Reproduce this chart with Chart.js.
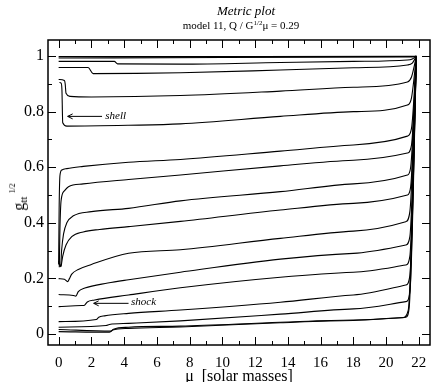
<!DOCTYPE html>
<html>
<head>
<meta charset="utf-8">
<script src="https://cdn.jsdelivr.net/npm/chart.js@4.4.0/dist/chart.umd.min.js"></script>
<style>
  html, body { margin: 0; padding: 0; background: #fff; }
  #wrap { position: relative; width: 436px; height: 382px; }
  #chart { position: absolute; left: 0; top: 0; }
  .t { position: absolute; font-family: "Liberation Serif", serif; color: #000; white-space: nowrap; transform: translateX(-50%); }
  #title { left: 246px; top: 3px; font-size: 13px; font-style: italic; }
  #subtitle { left: 241px; top: 19px; font-size: 11px; }
  #subtitle sup { font-size: 7px; vertical-align: 4px; line-height: 0; }
  #ylab { left: 19px; top: 197px; font-size: 16px; transform: translate(-50%, -50%) rotate(-90deg); }
  #ylab sub { font-size: 11px; vertical-align: -3px; line-height: 0; }
  #ylab sup { font-size: 8px; vertical-align: 9px; line-height: 0; margin-left: 3px; }
</style>
</head>
<body>
<div id="wrap">
  <canvas id="chart" width="436" height="382"></canvas>
  <div class="t" id="title">Metric plot</div>
  <div class="t" id="subtitle">model 11, Q / G<sup>1/2</sup>μ = 0.29</div>
  <div class="t" id="ylab">g<sub>tt</sub><sup>1/2</sup></div>
</div>
<script>
'use strict';

// axis ticks
const xTicks = [0, 2, 4, 6, 8, 10, 12, 14, 16, 18, 20, 22];
const xMinor = [1, 3, 5, 7, 9, 11, 13, 15, 17, 19, 21];
const yTicks = [0, 0.2, 0.4, 0.6, 0.8, 1];
const yMinor = [0.1, 0.3, 0.5, 0.7, 0.9];

// curves (mu in solar masses, g_tt^1/2)
const muT1 = [0, 10, 21.6, 21.85];
const gT1  = [0.998, 0.998, 0.999, 1.0];
const muT2 = [0, 10, 21.5, 21.85];
const gT2  = [0.993, 0.995, 0.997, 1.0];

const muA = [0, 3.4, 3.6, 7.44, 13.54, 18, 21.3, 21.6, 21.85];
const gA  = [0.981, 0.981, 0.972, 0.971, 0.977, 0.981, 0.986, 0.99, 1.0];

const muB = [0, 1.8, 2.1, 7.44, 13.54, 18, 21.3, 21.6, 21.85];
const gB  = [0.959, 0.959, 0.937, 0.94, 0.95, 0.958, 0.968, 0.975, 1.0];

const muC = [0, 0.35, 0.4, 0.45, 0.7, 2, 7.44, 13.54, 18, 21.3, 21.55, 21.85];
const gC  = [0.916, 0.912, 0.9, 0.866, 0.855, 0.853, 0.858, 0.874, 0.888, 0.907, 0.925, 1.0];

const muD = [0.05, 0.15, 0.2, 0.25, 0.5, 4.27, 7.44, 13.54, 18, 21.3, 21.55, 21.85];
const gD  = [0.905, 0.903, 0.88, 0.76, 0.748, 0.751, 0.756, 0.783, 0.8, 0.824, 0.85, 1.0];

const muE = [0, 0.03, 0.08, 0.2, 0.5, 1.5, 4.27, 7.44, 13.54, 18, 21.3, 21.55, 21.85];
const gE  = [0.25, 0.45, 0.57, 0.59, 0.595, 0.603, 0.618, 0.628, 0.658, 0.68, 0.712, 0.74, 1.0];

const muF = [0.04, 0.08, 0.15, 0.35, 0.6, 1.5, 4.27, 7.44, 13.54, 18, 21.3, 21.55, 21.85];
const gF  = [0.24, 0.38, 0.48, 0.515, 0.53, 0.54, 0.556, 0.572, 0.605, 0.625, 0.651, 0.68, 1.0];

const muG = [0, 0.12, 0.18, 0.3, 0.5, 0.9, 2, 4.27, 7.44, 13.54, 18, 21.3, 21.5, 21.85];
const gG  = [0.262, 0.242, 0.3, 0.36, 0.4, 0.425, 0.44, 0.452, 0.479, 0.512, 0.54, 0.572, 0.6, 1.0];

const muH = [0.15, 0.25, 0.45, 0.8, 1.5, 2.5, 4.27, 7.44, 13.54, 18, 21.3, 21.5, 21.85];
const gH  = [0.242, 0.28, 0.32, 0.35, 0.367, 0.376, 0.386, 0.405, 0.446, 0.47, 0.5, 0.53, 1.0];

const muI = [0, 0.35, 0.55, 0.65, 0.8, 1.2, 2, 4.27, 7.44, 13.54, 18, 21.2, 21.45, 21.85];
const gI  = [0.199, 0.197, 0.188, 0.198, 0.215, 0.232, 0.25, 0.29, 0.303, 0.344, 0.37, 0.404, 0.44, 1.0];

const muJ = [0, 0.9, 1.05, 1.2, 1.6, 3, 4.27, 7.44, 13.54, 18, 21.2, 21.45, 21.85];
const gJ  = [0.142, 0.138, 0.136, 0.152, 0.165, 0.183, 0.195, 0.222, 0.269, 0.29, 0.32, 0.35, 1.0];

const muK = [0, 1.4, 1.55, 1.75, 2.2, 4.27, 7.44, 13.54, 18, 21.2, 21.45, 21.85];
const gK  = [0.098, 0.102, 0.102, 0.115, 0.122, 0.14, 0.166, 0.204, 0.222, 0.248, 0.28, 1.0];

const muL = [0, 2.3, 2.45, 2.8, 4.27, 7.44, 13.54, 18, 21.2, 21.45, 21.85];
const gL  = [0.044, 0.052, 0.06, 0.065, 0.074, 0.086, 0.114, 0.14, 0.176, 0.21, 1.0];

const muM = [0, 2.9, 3.1, 4.27, 7.44, 13.54, 18, 21.2, 21.45, 21.85];
const gM  = [0.024, 0.03, 0.034, 0.038, 0.047, 0.071, 0.09, 0.116, 0.15, 1.0];

const muN1 = [0, 3.2, 3.35, 4.27, 7.44, 13.54, 18, 21.2, 21.4, 21.85];
const gN1  = [0.016, 0.01, 0.017, 0.024, 0.028, 0.042, 0.05, 0.06, 0.09, 1.0];
const muN2 = [0, 3.1, 3.3, 4.27, 7.44, 13.54, 18, 21.0, 21.35, 21.85];
const gN2  = [0.008, 0.006, 0.014, 0.02, 0.025, 0.04, 0.048, 0.058, 0.085, 1.0];

// arrow labels: text, text anchor, arrow tail -> tip (data units)
const notes = [
  { text: 'shell', tx: 2.85, ty: 0.783, x0: 2.65, y0: 0.783, x1: 0.55, y1: 0.783 },
  { text: 'shock', tx: 4.42, ty: 0.114, x0: 4.27, y0: 0.11, x1: 2.14, y1: 0.11 },
];

const series = [
  [muT1, gT1], [muT2, gT2], [muA, gA], [muB, gB], [muC, gC], [muD, gD],
  [muE, gE], [muF, gF], [muG, gG], [muH, gH], [muI, gI], [muJ, gJ],
  [muK, gK], [muL, gL], [muM, gM], [muN1, gN1], [muN2, gN2],
];

const SERIF = '"Liberation Serif", "Times New Roman", serif';

// box frame + inward ticks on all four sides
const framePlugin = {
  id: 'frame',
  afterDraw(chart) {
    const { ctx, chartArea: a, scales: { x, y } } = chart;
    ctx.save();
    ctx.strokeStyle = '#000';
    ctx.lineWidth = 1;
    ctx.beginPath();
    const xt = (v, len) => {
      const p = Math.round(x.getPixelForValue(v)) + 0.5;
      ctx.moveTo(p, a.bottom); ctx.lineTo(p, a.bottom - len);
      ctx.moveTo(p, a.top);    ctx.lineTo(p, a.top + len);
    };
    const yt = (v, len) => {
      const p = Math.round(y.getPixelForValue(v)) + 0.5;
      ctx.moveTo(a.left, p);  ctx.lineTo(a.left + len, p);
      ctx.moveTo(a.right, p); ctx.lineTo(a.right - len, p);
    };
    xTicks.forEach(v => xt(v, 8));
    xMinor.forEach(v => xt(v, 4));
    yTicks.forEach(v => yt(v, 8));
    yMinor.forEach(v => yt(v, 4));
    ctx.stroke();
    ctx.lineWidth = 1.5;
    ctx.strokeRect(a.left, a.top, a.right - a.left, a.bottom - a.top);
    ctx.restore();
  }
};

// italic notes with thin arrows
const notesPlugin = {
  id: 'notes',
  afterDatasetsDraw(chart) {
    const { ctx, scales: { x, y } } = chart;
    ctx.save();
    ctx.strokeStyle = '#000';
    ctx.fillStyle = '#000';
    ctx.lineWidth = 1;
    ctx.font = 'italic 11px ' + SERIF;
    ctx.textBaseline = 'middle';
    notes.forEach(n => {
      const x0 = x.getPixelForValue(n.x0), y0 = y.getPixelForValue(n.y0);
      const x1 = x.getPixelForValue(n.x1), y1 = y.getPixelForValue(n.y1);
      ctx.beginPath();
      ctx.moveTo(x0, y0); ctx.lineTo(x1, y1);
      ctx.moveTo(x1 + 5, y1 - 2.5); ctx.lineTo(x1, y1); ctx.lineTo(x1 + 5, y1 + 2.5);
      ctx.stroke();
      ctx.fillText(n.text, x.getPixelForValue(n.tx), y.getPixelForValue(n.ty));
    });
    ctx.restore();
  }
};

new Chart(document.getElementById('chart'), {
  type: 'line',
  data: {
    datasets: series.map(([mu, g]) => ({
      data: mu.map((m, i) => ({ x: m, y: g[i] })),
      borderColor: '#000',
      borderWidth: 1.1,
      pointRadius: 0,
      fill: false,
      cubicInterpolationMode: 'monotone',
    })),
  },
  options: {
    responsive: false,
    animation: false,
    devicePixelRatio: 1,
    layout: { padding: { top: 40, right: 6, left: 0, bottom: 0 } },
    plugins: { legend: { display: false }, tooltip: { enabled: false } },
    scales: {
      x: {
        type: 'linear',
        min: -0.65,
        max: 22.68,
        afterBuildTicks: s => { s.ticks = xTicks.map(v => ({ value: v })); },
        afterFit: s => { s.height = 37; },
        grid: { drawOnChartArea: false, drawTicks: false },
        border: { display: false },
        ticks: { color: '#000', font: { family: SERIF, size: 15 }, padding: 9, maxRotation: 0 },
        title: {
          display: true,
          text: 'μ  [solar masses]',
          color: '#000',
          font: { family: SERIF, size: 16, lineHeight: 0.6 },
          padding: { top: 0, bottom: 0 },
        },
      },
      y: {
        type: 'linear',
        min: -0.04,
        max: 1.058,
        afterBuildTicks: s => { s.ticks = yTicks.map(v => ({ value: v })); },
        afterFit: s => { s.width = 48; },
        grid: { drawOnChartArea: false, drawTicks: false },
        border: { display: false },
        ticks: {
          color: '#000',
          font: { family: SERIF, size: 16 },
          padding: 4,
          callback: v => (v === 0 || v === 1) ? String(v) : v.toFixed(1),
        },
      },
    },
  },
  plugins: [framePlugin, notesPlugin],
});
</script>
</body>
</html>
